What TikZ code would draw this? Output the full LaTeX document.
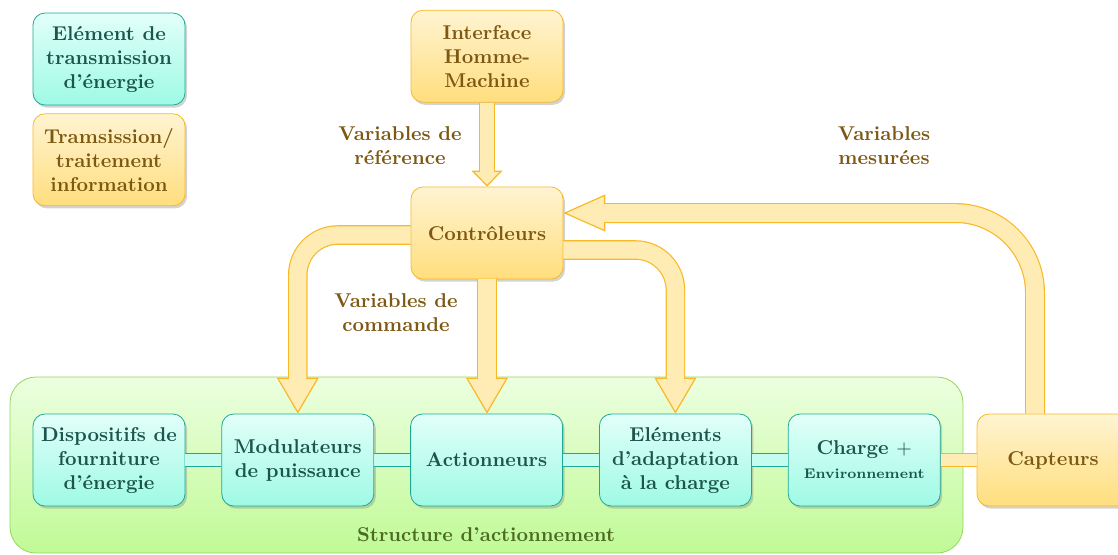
\documentclass[tikz,border=0pt]{standalone}
\usepackage{fontspec}
\usepackage{tikz}
\usetikzlibrary{arrows.meta,positioning,shadows}
\definecolor{entop}{RGB}{226,255,249}
\definecolor{enbot}{RGB}{158,250,228}
\definecolor{enline}{RGB}{32,168,150}
\definecolor{entext}{RGB}{28,85,75}
\definecolor{enbar}{RGB}{196,252,240}
\definecolor{intop}{RGB}{255,244,210}
\definecolor{inbot}{RGB}{255,222,125}
\definecolor{inline}{RGB}{248,185,40}
\definecolor{intext}{RGB}{125,88,18}
\definecolor{infill}{RGB}{255,236,180}
\definecolor{sttop}{RGB}{236,255,224}
\definecolor{stbot}{RGB}{192,250,150}
\definecolor{stline}{RGB}{150,215,90}
\definecolor{sttext}{RGB}{75,108,32}
\tikzset{
  boxbase/.style={rounded corners=6pt,minimum width=76pt,minimum height=46pt,align=center,font=\bfseries,
    drop shadow={shadow xshift=1pt,shadow yshift=-1.3pt,opacity=0.35}},
  energie/.style={boxbase,draw=enline,top color=entop,bottom color=enbot,text=entext},
  info/.style={boxbase,draw=inline,top color=intop,bottom color=inbot,text=intext},
  lbl/.style={align=center,font=\bfseries,text=intext},
  enbarre/.style={draw=enline,line width=0.5pt,double=enbar,double distance=6.2pt},
  inbarre/.style={draw=inline,line width=0.5pt,double=infill,double distance=6.2pt},
  bigout/.style={line width=9.8pt,draw=inline,-{Triangle[length=18pt 0 0,width=21pt 0 0,line width'=0.6pt,fill=infill]}},
  bigin/.style={line width=8.6pt,draw=infill,shorten >=17.3pt},
  smallout/.style={line width=8pt,draw=inline,-{Triangle[length=8pt 0 0,width=15.5pt 0 0,line width'=0.6pt,fill=infill]}},
  smallin/.style={line width=6.8pt,draw=infill,shorten >=7.3pt},
  fbout/.style={line width=10pt,draw=inline,-{Triangle[length=21pt 0 0,width=18.5pt 0 0,line width'=0.6pt,fill=infill]}},
  fbin/.style={line width=8.8pt,draw=infill,shorten >=20.3pt},
}
% fat arrow: outline first, then the inner fill
\newcommand{\fatarrow}[2]{\draw[#1out] #2; \draw[#1in] #2;}

\begin{document}
\begin{tikzpicture}[x=0.5pt,y=-0.5pt,node distance=18pt]
  \useasboundingbox (0,0) rectangle (1118,554);
  \draw[draw=stline,top color=sttop,bottom color=stbot,rounded corners=13pt] (10,377) rectangle (963,553);
  \node[text=sttext,font=\bfseries] (struct) at (486,535) {Structure d'actionnement};

  \node[energie] (legen) at (109,59) {Elément de\\transmission\\d'énergie};
  \node[info,below=4pt of legen] (leginf) {Tramsission/\\traitement\\information};

  \node[info] (ctrl) at (487,233) {Contrôleurs};
  \node[info,above=42pt of ctrl] (ihm) {Interface\\Homme-\\Machine};

  \node[energie] (disp) at (109,460) {Dispositifs de\\fourniture\\d'énergie};
  \node[energie,right=of disp] (modu) {Modulateurs\\de puissance};
  \node[energie,right=of modu] (act) {Actionneurs};
  \node[energie,right=of act] (adapt) {Eléments\\d'adaptation\\à la charge};
  \node[energie,right=of adapt] (charge) {Charge $+$\\{\scriptsize Environnement}};
  \node[info,right=of charge] (capt) {Capteurs};

  \draw[enbarre] (disp) -- (modu);
  \draw[enbarre] (modu) -- (act);
  \draw[enbarre] (act) -- (adapt);
  \draw[enbarre] (adapt) -- (charge);
  \draw[inbarre] (charge) -- (capt);

  \fatarrow{small}{(ihm.south) -- (ctrl.north)}
  \fatarrow{big}{([yshift=-1pt]ctrl.west) [rounded corners=20pt] -| (modu.north)}
  \fatarrow{big}{(ctrl.south) -- (ctrl.south |- act.north)}
  \fatarrow{big}{([yshift=-8.5pt]ctrl.east) [rounded corners=20pt] -| (adapt.north)}
  \fatarrow{fb}{([xshift=-9pt]capt.north) [rounded corners=40pt] |- ([yshift=10pt]ctrl.east)}

  \node[lbl] (vref) at (400,146) {Variables de\\référence};
  \node[lbl] (vcmd) at (396,313) {Variables de\\commande};
  \node[lbl] (vmes) at (884,146) {Variables\\mesurées};
\end{tikzpicture}
\end{document}
